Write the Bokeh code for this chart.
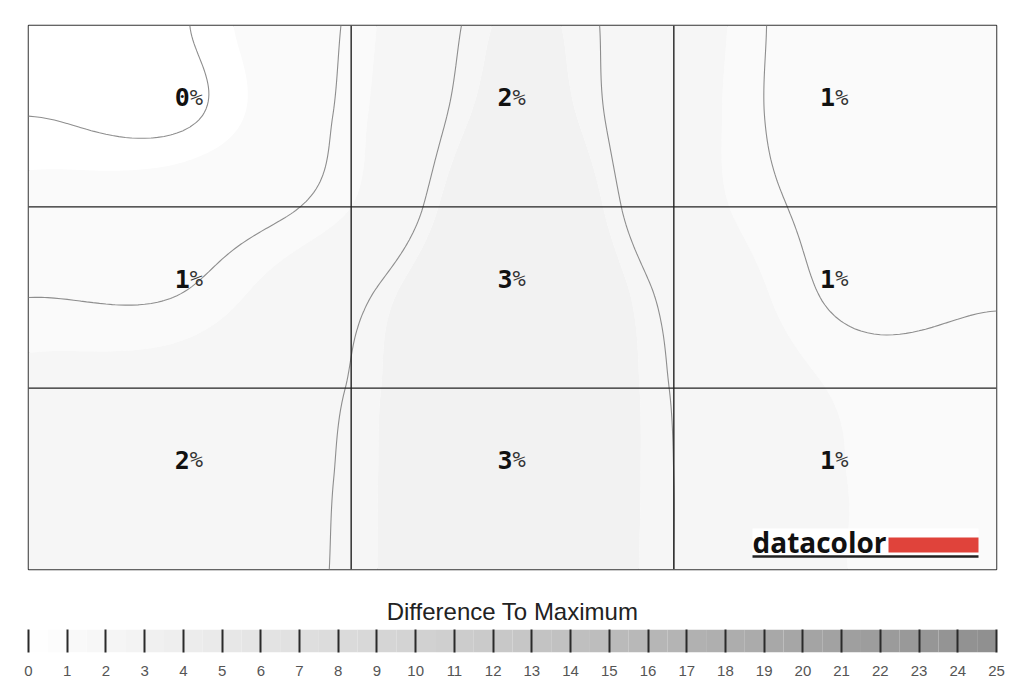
import numpy as np
from bokeh.plotting import figure
from bokeh.layouts import column
from bokeh.models import Range1d, FixedTicker
from bokeh.core.properties import value
from bokeh.embed import file_html
from bokeh.resources import INLINE

# ---------------- data ----------------
# displayed cell values (%), top row first
cell_values = [
    [0, 2, 1],
    [1, 3, 1],
    [2, 3, 1],
]
# estimated underlying field (difference to maximum, %) on a half-cell grid
field_x = [0.0, 0.5, 1.0, 1.5, 2.0, 2.5, 3.0]
field_y = [3.0, 2.5, 2.0, 1.5, 1.0, 0.5, 0.0]   # top row first
field_rows = [
    [0.60, 1.00, 1.65, 2.60, 2.05, 1.33, 1.25],
    [1.00, 0.97, 1.70, 2.70, 2.02, 1.35, 1.30],
    [1.25, 1.38, 1.80, 3.00, 2.04, 1.48, 1.38],
    [1.60, 1.63, 2.30, 3.10, 2.30, 1.56, 1.57],
    [1.90, 2.00, 2.42, 3.10, 2.38, 1.78, 1.76],
    [2.00, 2.10, 2.45, 3.05, 2.40, 1.82, 1.78],
    [2.00, 2.10, 2.46, 3.00, 2.40, 1.82, 1.78],
]
line_levels = [1.0, 1.6, 2.4]
fill_levels = [0.0, 1.15, 1.8, 2.55, 5.0]
fill_colors = ["#ffffff", "#fafafa", "#f6f6f6", "#f2f2f2"]
scale_ticks = list(range(0, 26))
scale_title = "Difference To Maximum"
logo_text = "datacolor"

# ---------------- helpers ----------------
def grey(v):
    g = int(round(255 - 4.5 * v))
    g = max(0, min(255, g))
    return "#%02x%02x%02x" % (g, g, g)


def cr_weights(src, dst):
    src = np.asarray(src, float)
    n = len(src)
    h = src[1] - src[0]
    W = np.zeros((len(dst), n))
    for k, t in enumerate(dst):
        f = (t - src[0]) / h
        i = int(np.clip(np.floor(f), 0, n - 2))
        s = f - i
        w = [(-s**3 + 2 * s**2 - s) / 2, (3 * s**3 - 5 * s**2 + 2) / 2,
             (-3 * s**3 + 4 * s**2 + s) / 2, (s**3 - s**2) / 2]
        for j, wj in zip(range(i - 1, i + 3), w):
            if j < 0:
                W[k, 0] += 2 * wj
                W[k, 1] -= wj
            elif j > n - 1:
                W[k, n - 1] += 2 * wj
                W[k, n - 2] -= wj
            else:
                W[k, j] += wj
    return W


n_rows = len(cell_values)
n_cols = len(cell_values[0])

xs_src = np.array(field_x)
ys_src = np.array(field_y[::-1])
Z_src = np.array(field_rows)[::-1]

gx = np.linspace(0, n_cols, 151)
gy = np.linspace(0, n_rows, 151)
Z = cr_weights(ys_src, gy) @ Z_src @ cr_weights(xs_src, gx).T

# ---------------- main figure ----------------
p = figure(width=1008, height=589, output_backend="svg", toolbar_location=None,
           x_axis_type=None, y_axis_type=None,
           x_range=Range1d(0, n_cols), y_range=Range1d(0, n_rows),
           min_border_left=28, min_border_right=12, min_border_top=25,
           min_border_bottom=20)
p.outline_line_color = "#333333"
p.outline_line_width = 1.5
p.background_fill_color = "white"
p.border_fill_color = "white"

p.contour(gx, gy, Z, fill_levels, fill_color=fill_colors, line_color=None)
p.contour(gx, gy, Z, line_levels, fill_color=None, line_color="#8e8e8e",
          line_width=1.1)

# cell grid
vx = list(range(1, n_cols))
hy = list(range(1, n_rows))
p.segment(x0=vx, y0=[0] * len(vx), x1=vx, y1=[n_rows] * len(vx),
          line_color="#222222", line_width=1.4)
p.segment(x0=[0] * len(hy), y0=hy, x1=[n_cols] * len(hy), y1=hy,
          line_color="#222222", line_width=1.4)

# cell labels
cx, cy, digits = [], [], []
for r, row in enumerate(cell_values):
    for c, v in enumerate(row):
        cx.append(c + 0.5)
        cy.append(n_rows - r - 0.5)
        digits.append(str(v))
p.text(x=cx, y=cy, text=digits, text_font=value("DejaVu Sans Mono"),
       text_font_style="bold", text_font_size="25px", text_color="#111111",
       text_align="right", text_baseline="middle", x_offset=0, y_offset=-19)
p.text(x=cx, y=cy, text=["%"] * len(cx), text_font=value("DejaVu Sans Mono"),
       text_font_style="normal", text_font_size="22px", text_color="#333333",
       text_align="left", text_baseline="middle", x_offset=0, y_offset=-19)

# datacolor logo (positioned in data units of the frame)
sx = n_cols / 968.0
sy = n_rows / 544.0
lx0, lx1 = (752 - 28) * sx, (978 - 28) * sx
p.quad(left=lx0, right=lx1, bottom=(569 - 556) * sy, top=(569 - 528) * sy,
       fill_color="white", line_color=None)
p.quad(left=(888 - 28) * sx, right=lx1, bottom=(569 - 552) * sy,
       top=(569 - 537) * sy, fill_color="#e0433b", line_color=None)
p.line(x=[lx0, lx1], y=[(569 - 556) * sy] * 2, line_color="#222222",
       line_width=2.5)
p.text(x=[lx0], y=[(569 - 541) * sy], text=[logo_text],
       text_font=value("Open Sans"), text_font_style="bold",
       text_font_size="28px", text_color="#111111",
       text_align="left", text_baseline="middle")

# ---------------- colour scale ----------------
p2 = figure(width=1008, height=103, output_backend="svg", toolbar_location=None,
            x_range=Range1d(scale_ticks[0], scale_ticks[-1]),
            y_range=Range1d(0, 1), y_axis_type=None,
            min_border_left=28, min_border_right=12, min_border_top=40,
            min_border_bottom=40, title=scale_title)
p2.outline_line_color = None
p2.background_fill_color = "white"
p2.border_fill_color = "white"
p2.grid.visible = False
p2.title.align = "center"
p2.title.text_font = "Liberation Sans"
p2.title.text_font_size = "24px"
p2.title.text_font_style = "normal"
p2.title.text_color = "#222222"

bins = np.arange(scale_ticks[0], scale_ticks[-1], 0.5)
p2.quad(left=bins, right=bins + 0.5, bottom=0, top=1,
        fill_color=[grey(b + 0.25) for b in bins], line_color=None)

ax = p2.xaxis[0]
ax.ticker = FixedTicker(ticks=scale_ticks)
ax.axis_line_color = None
ax.major_tick_in = 23
ax.major_tick_out = 0
ax.major_tick_line_color = "#2a2a2a"
ax.major_tick_line_width = 2
ax.minor_tick_line_color = None
ax.major_label_standoff = 13
ax.major_label_text_font = "Liberation Sans"
ax.major_label_text_font_size = "15px"
ax.major_label_text_color = "#555555"

layout = column(p, p2)
open("out.html", "w").write(file_html(layout, INLINE))
